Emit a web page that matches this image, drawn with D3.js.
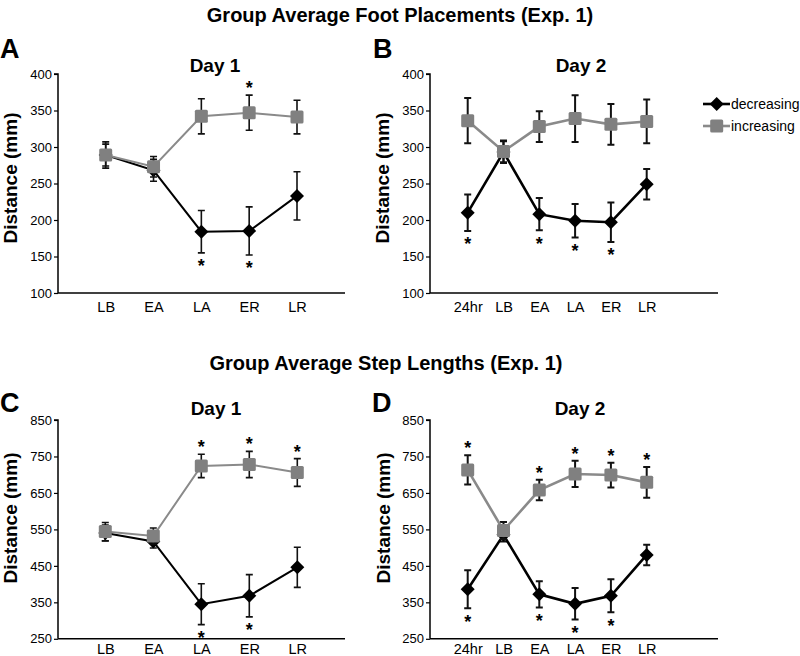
<!DOCTYPE html>
<html>
<head>
<meta charset="utf-8">
<script src="https://cdn.jsdelivr.net/npm/d3@7/dist/d3.min.js"></script>
<style>
  html, body { margin: 0; padding: 0; background: #fff; }
  svg { display: block; }
  text { font-family: "Liberation Sans", Arial, Helvetica, sans-serif; fill: #000; }
</style>
</head>
<body>
<svg id="chart" width="800" height="656"></svg>
<script>
// ---------------- DATA ----------------
const catsDay1 = ["LB", "EA", "LA", "ER", "LR"];
const catsDay2 = ["24hr", "LB", "EA", "LA", "ER", "LR"];
const seriesNames = ["decreasing", "increasing"];

const footTicks = [100, 150, 200, 250, 300, 350, 400];
const stepTicks = [250, 350, 450, 550, 650, 750, 850];

// Foot placements, Day 1
const footDay1Dec    = [289, 268, 184, 185, 233];
const footDay1DecErr = [15, 15, 29, 33, 33];
const footDay1Inc    = [289, 273, 342, 347, 341];
const footDay1IncErr = [18, 14, 24, 24, 23];
const footDay1SigDec = [0, 0, 1, 1, 0];
const footDay1SigInc = [0, 0, 0, 1, 0];

// Foot placements, Day 2
const footDay2Dec    = [210, 293, 208, 199, 197, 249];
const footDay2DecErr = [25, 15, 22, 23, 27, 21];
const footDay2Inc    = [336, 294, 328, 339, 331, 335];
const footDay2IncErr = [31, 15, 21, 32, 28, 30];
const footDay2SigDec = [1, 0, 1, 1, 1, 0];
const footDay2SigInc = [0, 0, 0, 0, 0, 0];

// Step lengths, Day 1
const stepDay1Dec    = [540, 517, 345, 368, 446];
const stepDay1DecErr = [22, 18, 56, 58, 55];
const stepDay1Inc    = [544, 532, 724, 728, 706];
const stepDay1IncErr = [25, 22, 32, 36, 38];
const stepDay1SigDec = [0, 0, 1, 1, 0];
const stepDay1SigInc = [0, 0, 1, 1, 1];

// Step lengths, Day 2
const stepDay2Dec    = [386, 535, 372, 346, 368, 480];
const stepDay2DecErr = [52, 18, 36, 43, 45, 28];
const stepDay2Inc    = [713, 547, 658, 702, 699, 679];
const stepDay2IncErr = [40, 23, 28, 36, 34, 42];
const stepDay2SigDec = [1, 0, 1, 1, 1, 0];
const stepDay2SigInc = [1, 0, 1, 1, 1, 1];

// ---------------- LAYOUT ----------------
const FONT = '"Liberation Sans", Arial, Helvetica, sans-serif';
const GRAY = "#808080";
const GRAY_LINE = "#8a8a8a";

const panels = [
  { letter: "A", title: "Day 1", cats: catsDay1, ticks: footTicks,
    dec: footDay1Dec, decErr: footDay1DecErr, inc: footDay1Inc, incErr: footDay1IncErr,
    sigDec: footDay1SigDec, sigInc: footDay1SigInc,
    axisX0: 58, axisX1: 345, firstX: 105.7, lastX: 297, yTop: 74, yBot: 293, xPad: 8.4,
    letterX: 0, letterY: 58, titleX: 215, titleY: 72, ylabX: 17, ylabY: 178, lw: 2, ew: 1.6 },
  { letter: "B", title: "Day 2", cats: catsDay2, ticks: footTicks,
    dec: footDay2Dec, decErr: footDay2DecErr, inc: footDay2Inc, incErr: footDay2IncErr,
    sigDec: footDay2SigDec, sigInc: footDay2SigInc,
    axisX0: 430, axisX1: 718, firstX: 467.7, lastX: 646.7, yTop: 74, yBot: 293, xPad: 8.4,
    letterX: 373, letterY: 58, titleX: 581, titleY: 72, ylabX: 389, ylabY: 178, lw: 2.6, ew: 2 },
  { letter: "C", title: "Day 1", cats: catsDay1, ticks: stepTicks,
    dec: stepDay1Dec, decErr: stepDay1DecErr, inc: stepDay1Inc, incErr: stepDay1IncErr,
    sigDec: stepDay1SigDec, sigInc: stepDay1SigInc,
    axisX0: 58, axisX1: 345, firstX: 105.3, lastX: 297.3, yTop: 420, yBot: 638.8, xPad: 5.2,
    letterX: 0, letterY: 412, titleX: 216, titleY: 415, ylabX: 17, ylabY: 518, lw: 2, ew: 1.6 },
  { letter: "D", title: "Day 2", cats: catsDay2, ticks: stepTicks,
    dec: stepDay2Dec, decErr: stepDay2DecErr, inc: stepDay2Inc, incErr: stepDay2IncErr,
    sigDec: stepDay2SigDec, sigInc: stepDay2SigInc,
    axisX0: 430, axisX1: 718, firstX: 467.7, lastX: 646.7, yTop: 420, yBot: 638.8, xPad: 5.2,
    letterX: 372, letterY: 412, titleX: 580, titleY: 415, ylabX: 390, ylabY: 518, lw: 2.6, ew: 2 }
];

const svg = d3.select("#chart");

// Section titles
svg.append("text").attr("x", 400).attr("y", 22).attr("text-anchor", "middle")
  .attr("font-size", 20).attr("font-weight", "bold")
  .text("Group Average Foot Placements (Exp. 1)");
svg.append("text").attr("x", 386).attr("y", 370).attr("text-anchor", "middle")
  .attr("font-size", 20).attr("font-weight", "bold")
  .text("Group Average Step Lengths (Exp. 1)");

function diamondPath(r) {
  return `M0,${-r}L${r},0L0,${r}L${-r},0Z`;
}

function asterisk(g, x, cy) {
  const fs = 18;
  g.append("text").attr("x", x).attr("y", cy + 0.58 * fs)
    .attr("text-anchor", "middle").attr("font-size", fs).attr("font-weight", "bold")
    .text("*");
}

panels.forEach(p => {
  const g = svg.append("g");
  const n = p.cats.length;
  const x = d3.scaleLinear().domain([0, n - 1]).range([p.firstX, p.lastX]);
  const y = d3.scaleLinear().domain([p.ticks[0], p.ticks[p.ticks.length - 1]]).range([p.yBot, p.yTop]);

  // Panel letter
  g.append("text").attr("x", p.letterX).attr("y", p.letterY)
    .attr("font-size", 27).attr("font-weight", "bold").text(p.letter);
  // Panel title
  g.append("text").attr("x", p.titleX).attr("y", p.titleY).attr("text-anchor", "middle")
    .attr("font-size", 19).attr("font-weight", "bold").text(p.title);
  // Y label
  g.append("text").attr("transform", `translate(${p.ylabX},${p.ylabY}) rotate(-90)`)
    .attr("text-anchor", "middle").attr("font-size", 19).attr("font-weight", "bold")
    .text("Distance (mm)");

  // Y axis
  const yAxis = d3.axisLeft(y).tickValues(p.ticks).tickSize(4).tickPadding(2).tickFormat(d3.format("d"));
  const ya = g.append("g").attr("transform", `translate(${p.axisX0},0)`).call(yAxis);
  ya.select(".domain").attr("stroke", "#000").attr("stroke-width", 1.5)
    .attr("d", `M-4,${p.yTop}H0V${p.yBot}`);
  ya.selectAll(".tick line").attr("stroke", "#000").attr("stroke-width", 1.2);
  ya.selectAll(".tick text").attr("font-family", FONT).attr("font-size", 13).attr("fill", "#000");

  // X axis (line only, category labels)
  const xa = d3.axisBottom(x).tickValues(d3.range(n)).tickSize(0).tickPadding(p.xPad)
    .tickFormat(i => p.cats[i]);
  const xg = g.append("g").attr("transform", `translate(0,${p.yBot})`).call(xa);
  xg.select(".domain").attr("stroke", "#000").attr("stroke-width", 1.5)
    .attr("d", `M${p.axisX0},0H${p.axisX1}`);
  xg.selectAll(".tick text").attr("font-family", FONT).attr("font-size", 14.5).attr("fill", "#000");

  const line = d3.line().x((d, i) => x(i)).y(d => y(d));

  function drawSeries(vals, errs, color, lineColor, shape) {
    // error bars
    vals.forEach((v, i) => {
      const cx = x(i), t = y(v + errs[i]), b = y(v - errs[i]);
      g.append("path")
        .attr("d", `M${cx},${t}V${b}M${cx - 3.5},${t}H${cx + 3.5}M${cx - 3.5},${b}H${cx + 3.5}`)
        .attr("stroke", "#111").attr("stroke-width", p.ew).attr("fill", "none");
    });
    g.append("path").datum(vals).attr("d", line)
      .attr("stroke", lineColor).attr("stroke-width", p.lw).attr("fill", "none");
    vals.forEach((v, i) => {
      if (shape === "diamond") {
        g.append("path").attr("d", diamondPath(7))
          .attr("transform", `translate(${x(i)},${y(v)})`).attr("fill", color);
      } else {
        g.append("rect").attr("x", x(i) - 6.5).attr("y", y(v) - 6.5)
          .attr("width", 13).attr("height", 13).attr("rx", 1.5).attr("fill", color);
      }
    });
  }

  drawSeries(p.dec, p.decErr, "#000", "#000", "diamond");
  drawSeries(p.inc, p.incErr, GRAY, GRAY_LINE, "square");

  // significance asterisks
  p.sigDec.forEach((s, i) => { if (s) asterisk(g, x(i), y(p.dec[i] - p.decErr[i]) + 9); });
  p.sigInc.forEach((s, i) => { if (s) asterisk(g, x(i), y(p.inc[i] + p.incErr[i]) - 11.5); });
});

// Legend
const leg = svg.append("g");
[0, 1].forEach(k => {
  const cy = k === 0 ? 104 : 126;
  const col = k === 0 ? "#000" : GRAY;
  const lcol = k === 0 ? "#000" : GRAY_LINE;
  leg.append("line").attr("x1", 703).attr("x2", 730).attr("y1", cy).attr("y2", cy)
    .attr("stroke", lcol).attr("stroke-width", 2.6);
  if (k === 0) {
    leg.append("path").attr("d", diamondPath(7)).attr("transform", `translate(716.7,${cy})`).attr("fill", col);
  } else {
    leg.append("rect").attr("x", 716.7 - 6.5).attr("y", cy - 6.5).attr("width", 13).attr("height", 13)
      .attr("rx", 1.5).attr("fill", col);
  }
  leg.append("text").attr("x", 731).attr("y", cy + 5).attr("font-size", 14).text(seriesNames[k]);
});
</script>
</body>
</html>
